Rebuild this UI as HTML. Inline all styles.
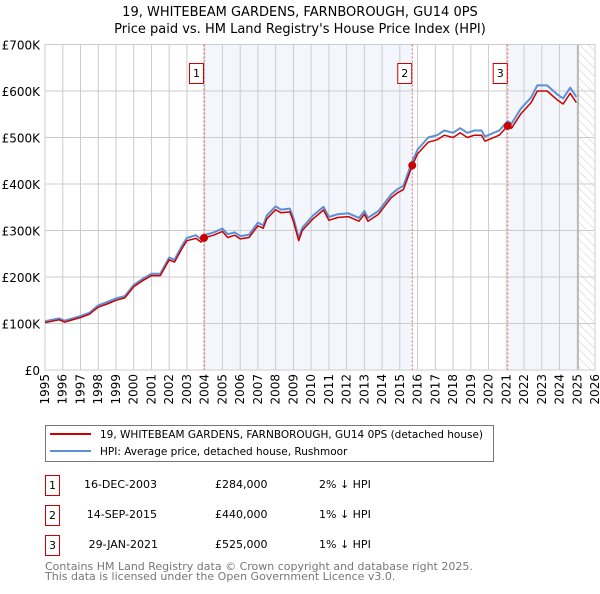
<!DOCTYPE html>
<html><head><meta charset="utf-8"><style>
body{margin:0;background:#fff;width:600px;height:590px;overflow:hidden;font-family:"DejaVu Sans","Liberation Sans",sans-serif}
svg text{font-family:"DejaVu Sans","Liberation Sans",sans-serif}
</style></head><body>
<svg id="c" width="600" height="590" xmlns="http://www.w3.org/2000/svg">
<defs><pattern id="hatch" width="6" height="6" patternUnits="userSpaceOnUse" patternTransform="rotate(-45)"><line x1="0" y1="0" x2="0" y2="6" stroke="#ccc" stroke-width="1"/></pattern></defs>
<text x="300" y="16" text-anchor="middle" font-size="13">19, WHITEBEAM GARDENS, FARNBOROUGH, GU14 0PS</text>
<text x="300" y="33" text-anchor="middle" font-size="13">Price paid vs. HM Land Registry's House Price Index (HPI)</text>
<g id="plot"></g>
<g>
<rect x="45.5" y="425.5" width="448" height="36" fill="#fff" stroke="#777"/>
<line x1="50" y1="434" x2="91" y2="434" stroke="#cc0000" stroke-width="2"/>
<text x="100" y="438" font-size="10.5">19, WHITEBEAM GARDENS, FARNBOROUGH, GU14 0PS (detached house)</text>
<line x1="50" y1="451" x2="91" y2="451" stroke="#5b8fd6" stroke-width="2"/>
<text x="100" y="455" font-size="10.5">HPI: Average price, detached house, Rushmoor</text>
</g>
<g font-size="11">
<rect x="45.5" y="475.5" width="14" height="20" fill="#fff" stroke="#cc0000"/><text x="52.5" y="489" text-anchor="middle">1</text>
<text x="157" y="488" text-anchor="end">16-DEC-2003</text><text x="215" y="488">£284,000</text><text x="319" y="488">2% ↓ HPI</text>
<rect x="45.5" y="505.5" width="14" height="20" fill="#fff" stroke="#cc0000"/><text x="52.5" y="519" text-anchor="middle">2</text>
<text x="157" y="518" text-anchor="end">14-SEP-2015</text><text x="215" y="518">£440,000</text><text x="319" y="518">1% ↓ HPI</text>
<rect x="45.5" y="535.5" width="14" height="20" fill="#fff" stroke="#cc0000"/><text x="52.5" y="549" text-anchor="middle">3</text>
<text x="158" y="548" text-anchor="end">29-JAN-2021</text><text x="215" y="548">£525,000</text><text x="319" y="548">1% ↓ HPI</text>
</g>
<text x="45" y="570" font-size="11" fill="#777">Contains HM Land Registry data © Crown copyright and database right 2025.</text>
<text x="45" y="580" font-size="11" fill="#777">This data is licensed under the Open Government Licence v3.0.</text>
</svg>
<script>
const years=[1995,1995.8,1996.1,1997,1997.5,1998,1998.5,1999,1999.5,2000,2000.5,2001,2001.5,2002,2002.3,2002.7,2003,2003.5,2003.8,2003.96,2004.5,2005,2005.3,2005.7,2006,2006.5,2007,2007.3,2007.5,2008,2008.3,2008.8,2009,2009.3,2009.5,2010.1,2010.7,2011,2011.5,2012.1,2012.7,2013,2013.2,2013.8,2014.5,2014.9,2015.2,2015.7,2016,2016.6,2017.1,2017.5,2018,2018.4,2018.8,2019.2,2019.6,2019.8,2020.6,2021.08,2021.3,2021.8,2022.4,2022.75,2023.3,2023.9,2024.2,2024.6,2024.95];
const priceK=[102,108,103,113,120,135,142,150,155,179,192,203,203,237,232,260,278,283,275,284,290,298,285,290,282,285,310,305,325,345,338,340,320,278,300,325,344,322,328,330,320,335,320,335,370,382,388,440,465,490,495,505,500,510,500,505,505,492,505,525,520,550,575,600,600,580,572,595,575];
const hpiK=[105,111,106,116,123,139,146,154,159,183,196,207,207,242,237,266,284,290,281,290,296,304,292,296,288,291,317,311,332,352,345,347,327,284,306,332,351,329,335,337,327,342,327,342,377,390,396,449,474,500,505,515,510,520,510,515,515,502,515,535,530,561,586,612,612,592,584,607,587];
const saleYears=[2003.96,2015.7,2021.08];
const saleK=[284,440,525];
const yTicks=[0,100,200,300,400,500,600,700];
const xTicks=[1995,1996,1997,1998,1999,2000,2001,2002,2003,2004,2005,2006,2007,2008,2009,2010,2011,2012,2013,2014,2015,2016,2017,2018,2019,2020,2021,2022,2023,2024,2025,2026];
const L=45,R=595,T=44.5,B=370,dataEnd=2025.05;
const X=y=>L+(y-1995)*(R-L)/31;
const Y=v=>B-v*(B-T)/700;
const NS="http://www.w3.org/2000/svg";
const g=document.getElementById('plot');
function mk(t,a,p){const e=document.createElementNS(NS,t);for(const k in a)e.setAttribute(k,a[k]);(p||g).appendChild(e);return e;}
let e;
e=mk('rect',{x:X(saleYears[0]),y:T,width:X(saleYears[1])-X(saleYears[0]),height:B-T,fill:'#eef3fc',opacity:0.7});


e=mk('rect',{x:X(saleYears[2]),y:T,width:X(dataEnd)-X(saleYears[2]),height:B-T,fill:'#eef3fc',opacity:0.7});


e=mk('rect',{x:X(dataEnd),y:T,width:R-X(dataEnd),height:B-T,fill:'url(#hatch)'});


yTicks.forEach(v=>{
 e=mk('line',{x1:L,x2:R,y1:Y(v),y2:Y(v),stroke:'#ccc','stroke-width':1});
 
 
 e=mk('text',{x:40,y:Y(v)+5,'text-anchor':'end','font-size':12});
 e.textContent=v===0?'£0':'£'+v+'K';
 
 
});
xTicks.forEach(y=>{
 e=mk('line',{x1:X(y),x2:X(y),y1:T,y2:B,stroke:'#ccc','stroke-width':1});
 
 
 e=mk('text',{x:0,y:0,'font-size':12,'text-anchor':'end',transform:`translate(${X(y)+4},${B+4}) rotate(-90)`});
 e.textContent=y;
 
 
});
e=mk('line',{x1:X(dataEnd),x2:X(dataEnd),y1:T,y2:B,stroke:'#999','stroke-width':1});


e=mk('rect',{x:L,y:T,width:R-L,height:B-T,fill:'none',stroke:'#ccc'});


saleYears.forEach((s,i)=>{
 e=mk('line',{x1:X(s),x2:X(s),y1:T,y2:B,stroke:'#e06060','stroke-width':1,'stroke-dasharray':'2,2'});
 
 
 e=mk('rect',{x:X(s)-14.5,y:63.5,width:14,height:20,fill:'#fff',stroke:'#cc0000'});
 
 
 e=mk('text',{x:X(s)-7.5,y:77,'text-anchor':'middle','font-size':11});
 e.textContent=i+1;
 
 
});
const pts=(arr)=>years.map((y,i)=>X(y).toFixed(1)+','+Y(arr[i]).toFixed(1)).join(' ');
e=mk('polyline',{points:pts(hpiK),fill:'none',stroke:'#5b8fd6','stroke-width':2,'stroke-linejoin':'round'});


e=mk('polyline',{points:pts(priceK),fill:'none',stroke:'#cc0000','stroke-width':1.5,'stroke-linejoin':'round'});


saleYears.forEach((s,i)=>{
 e=mk('circle',{cx:X(s),cy:Y(saleK[i]),r:4,fill:'#cc0000'});
 
 
});
</script>
</body></html>
